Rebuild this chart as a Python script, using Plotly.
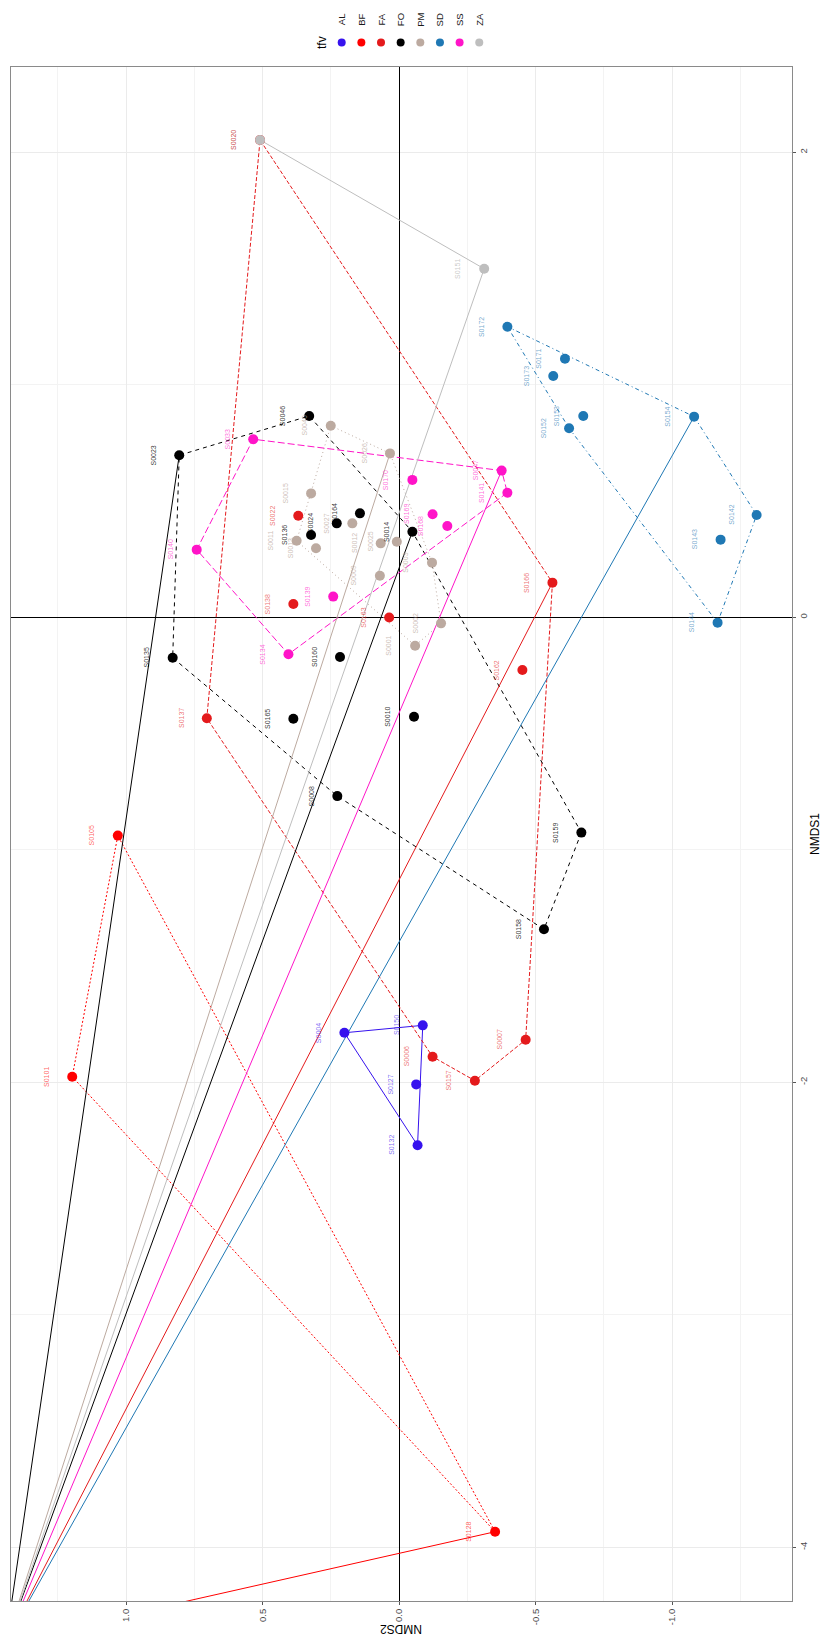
import plotly.graph_objects as go

# ---- NMDS site scores -------------------------------------------------------
samples = [
    "S0004", "S0150", "S0127", "S0132",
    "S0105", "S0101", "S0128",
    "S0020", "S0166", "S0162", "S0163", "S0138", "S0022", "S0137", "S0006", "S0157", "S0007",
    "S0023", "S0046", "S0164", "S0024", "S0136", "S0014", "S0160", "S0135", "S0165", "S0010",
    "S0008", "S0159", "S0158",
    "S0040", "S0026", "S0015", "S0027", "S0011", "S0013", "S0012", "S0025", "S0009", "S0003",
    "S0002", "S0001",
    "S0172", "S0171", "S0173", "S0153", "S0152", "S0154", "S0142", "S0143", "S0144",
    "S0033", "S0047", "S0141", "S0170", "S0169", "S0168", "S0139", "S0134", "S0140",
    "S0020", "S0151",
]
tfv = (["AL"] * 4 + ["BF"] * 3 + ["FA"] * 10 + ["FO"] * 13 + ["PM"] * 12
       + ["SD"] * 9 + ["SS"] * 9 + ["ZA"] * 2)
nmds1 = [
    -1.787, -1.755, -2.009, -2.271,
    -0.939, -1.976, -3.933,
    2.053, 0.149, -0.227, -0.001, 0.057, 0.437, -0.434, -1.890, -1.993, -1.817,
    0.697, 0.866, 0.447, 0.404, 0.354, 0.368, -0.171, -0.174, -0.436, -0.428,
    -0.769, -0.926, -1.342,
    0.824, 0.705, 0.533, 0.404, 0.329, 0.297, 0.318, 0.325, 0.179, 0.235,
    -0.026, -0.122,
    1.250, 1.112, 1.038, 0.866, 0.813, 0.863, 0.440, 0.334, -0.023,
    0.766, 0.631, 0.536, 0.591, 0.443, 0.393, 0.089, -0.159, 0.291,
    2.053, 1.499,
]
nmds2 = [
    0.200, -0.087, -0.063, -0.068,
    1.030, 1.197, -0.352,
    0.509, -0.562, -0.452, 0.036, 0.387, 0.369, 0.704, -0.123, -0.278, -0.464,
    0.805, 0.329, 0.143, 0.228, 0.322, -0.049, 0.216, 0.829, 0.387, -0.055,
    0.226, -0.668, -0.531,
    0.250, 0.033, 0.322, 0.171, 0.375, 0.304, 0.067, 0.008, 0.070, -0.121,
    -0.154, -0.059,
    -0.397, -0.608, -0.565, -0.675, -0.623, -1.081, -1.310, -1.178, -1.167,
    0.534, -0.376, -0.397, -0.049, -0.123, -0.177, 0.241, 0.405, 0.741,
    0.509, -0.312,
]

groups = ["AL", "BF", "FA", "FO", "PM", "SD", "SS", "ZA"]
group_colors = ["#3612ee", "#ff0000", "#e41a1c", "#000000",
                "#bcaaa0", "#1f78b4", "#ff14c8", "#bebebe"]
label_colors = ["rgba(54,18,238,0.65)", "rgba(255,0,0,0.65)", "rgba(228,26,28,0.65)",
                "rgba(0,0,0,0.8)", "rgba(188,170,160,0.75)", "rgba(31,120,180,0.65)",
                "rgba(255,20,200,0.65)", "rgba(190,190,190,0.8)"]
group_dashes = ["solid", "2px,2px", "4px,2px", "4px,4px",
                "1px,3px", "1px,3px,4px,3px", "7px,3px", "solid"]

# Rays drawn from selected sites toward the distant outlying score
far_nmds1 = -4.407
far_nmds2 = 1.440
ray_groups = ["FO", "FO", "PM", "ZA", "SS", "FA", "SD", "BF"]
ray_samples = ["S0023", "S0014", "S0026", "S0151", "S0047", "S0166", "S0154", "S0128"]

# axis ticks
x_ticks = [1.0, 0.5, 0.0, -0.5, -1.0]
x_ticklabels = ["1.0", "0.5", "0.0", "-0.5", "-1.0"]
y_ticks = [2, 0, -2, -4]
y_ticklabels = ["2", "0", "-2", "-4"]

# ---- geometry of the page ---------------------------------------------------
W, H = 825, 1641
L, R, T, B = 11, 33, 67, 40
PW, PH = W - L - R, H - T - B


def px_x(px):
    return (px - L) / PW


def px_y(py):
    return (H - B - py) / PH


def convex_hull(pts):
    pts = sorted(set(pts))
    if len(pts) <= 2:
        return pts

    def cross(o, a, b):
        return (a[0] - o[0]) * (b[1] - o[1]) - (a[1] - o[1]) * (b[0] - o[0])

    lower, upper = [], []
    for p in pts:
        while len(lower) >= 2 and cross(lower[-2], lower[-1], p) <= 0:
            lower.pop()
        lower.append(p)
    for p in reversed(pts):
        while len(upper) >= 2 and cross(upper[-2], upper[-1], p) <= 0:
            upper.pop()
        upper.append(p)
    return lower[:-1] + upper[:-1]


fig = go.Figure()

# convex hulls per group
for g, col, dash in zip(groups, group_colors, group_dashes):
    pts = [(x, y) for x, y, t in zip(nmds2, nmds1, tfv) if t == g]
    hull = convex_hull(pts)
    if len(hull) > 2:
        hull = hull + [hull[0]]
    fig.add_trace(go.Scatter(
        x=[p[0] for p in hull], y=[p[1] for p in hull], mode="lines",
        line=dict(color=col, width=1, dash=dash), hoverinfo="skip", showlegend=False))

# rays to the distant score
for g, s in zip(ray_groups, ray_samples):
    i = [k for k in range(len(samples)) if samples[k] == s and tfv[k] == g][0]
    col = group_colors[groups.index(g)]
    fig.add_trace(go.Scatter(
        x=[nmds2[i], far_nmds2], y=[nmds1[i], far_nmds1], mode="lines",
        line=dict(color=col, width=1), hoverinfo="skip", showlegend=False))

# site points
for g, col in zip(groups, group_colors):
    idx = [k for k in range(len(samples)) if tfv[k] == g]
    fig.add_trace(go.Scatter(
        x=[nmds2[k] for k in idx], y=[nmds1[k] for k in idx], mode="markers",
        marker=dict(color=col, size=10, line=dict(width=0)),
        name=g, showlegend=False))

FONT = "Liberation Sans, Arial"
annotations = []
# site labels (ZA first so the FA label of the shared site sits on top)
order = sorted(range(len(samples)), key=lambda k: 0 if tfv[k] == "ZA" else 1)
for k in order:
    annotations.append(dict(
        x=nmds2[k], y=nmds1[k], xref="x", yref="y", text=samples[k],
        textangle=-90, showarrow=False, xshift=-26,
        xanchor="center", yanchor="middle",
        font=dict(family=FONT, size=7, color=label_colors[groups.index(tfv[k])])))

# axis titles
annotations.append(dict(x=px_x(815), y=px_y(834), xref="paper", yref="paper",
                        text="NMDS1", textangle=-90, showarrow=False,
                        xanchor="center", yanchor="middle",
                        font=dict(family=FONT, size=12, color="#000")))
annotations.append(dict(x=px_x(401), y=px_y(1629), xref="paper", yref="paper",
                        text="NMDS2", textangle=180, showarrow=False,
                        xanchor="center", yanchor="middle",
                        font=dict(family=FONT, size=12, color="#000")))

# legend
annotations.append(dict(x=px_x(322), y=px_y(43), xref="paper", yref="paper",
                        text="tfv", textangle=-90, showarrow=False,
                        xanchor="center", yanchor="middle",
                        font=dict(family=FONT, size=12, color="#000")))
shapes = []
for j, (g, col) in enumerate(zip(groups, group_colors)):
    cx = 341.7 + j * 19.65
    shapes.append(dict(type="circle", xref="paper", yref="paper",
                       xsizemode="pixel", ysizemode="pixel",
                       xanchor=px_x(cx), yanchor=px_y(42.5),
                       x0=-4, x1=4, y0=-4, y1=4,
                       fillcolor=col, line=dict(width=0)))
    annotations.append(dict(x=px_x(cx), y=px_y(19.5), xref="paper", yref="paper",
                            text=g, textangle=-90, showarrow=False,
                            xanchor="center", yanchor="middle",
                            font=dict(family=FONT, size=9.5, color="#1a1a1a")))

x_lo = (399 - L) / 273.0
x_hi = (399 - (W - R)) / 273.0
y_lo = (617.3 - (H - B)) / 232.5
y_hi = (617.3 - T) / 232.5

axis_common = dict(
    showline=True, mirror=True, linecolor="#8a8a8a", linewidth=1,
    showgrid=True, gridcolor="#ebebeb", gridwidth=1,
    zeroline=True, zerolinecolor="#000000", zerolinewidth=1,
    ticks="outside", ticklen=3, tickcolor="#555555", tickwidth=1,
    tickfont=dict(family=FONT, size=9.5, color="#4d4d4d"),
    tickangle=-90,
)

fig.update_layout(
    width=W, height=H,
    margin=dict(l=L, r=R, t=T, b=B, pad=0),
    paper_bgcolor="white", plot_bgcolor="white",
    showlegend=False,
    xaxis=dict(range=[x_lo, x_hi], tickvals=x_ticks, ticktext=x_ticklabels,
               minor=dict(tickvals=[1.25, 0.75, 0.25, -0.25, -0.75, -1.25],
                          showgrid=True, gridcolor="#f3f3f3", gridwidth=0.6, ticks=""),
               **axis_common),
    yaxis=dict(range=[y_lo, y_hi], side="right", tickvals=y_ticks, ticktext=y_ticklabels,
               minor=dict(tickvals=[1, -1, -3], showgrid=True, gridcolor="#f3f3f3",
                          gridwidth=0.6, ticks=""),
               **axis_common),
    annotations=annotations,
    shapes=shapes,
)

fig.write_html("out.html")
